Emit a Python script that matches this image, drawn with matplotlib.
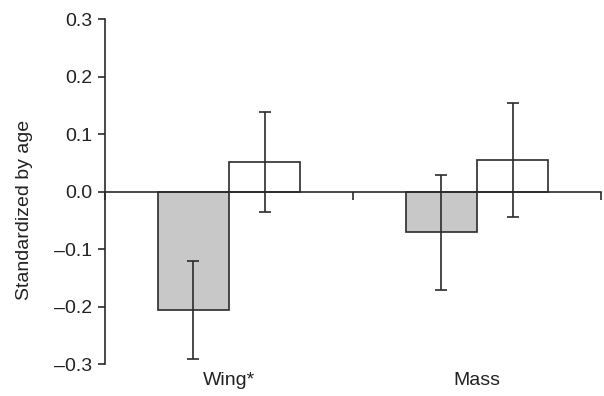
import matplotlib.pyplot as plt
from matplotlib.transforms import blended_transform_factory

plt.rcParams['font.family'] = ['Liberation Sans', 'DejaVu Sans']

traits = ["Wing*", "Mass"]
group_a = [-0.206, -0.071]
group_a_err = [0.086, 0.100]
group_b = [0.052, 0.055]
group_b_err = [0.087, 0.099]

ink = "#2b2b2b"
text_col = "#222222"
width = 0.288

fig = plt.figure(figsize=(6.04, 3.96), dpi=100)
ax = fig.add_axes([0.1738, 0.0808, 0.8212, 0.8712])

xs = list(range(len(traits)))
xa = [x - width / 2 for x in xs]
xb = [x + width / 2 for x in xs]

ax.bar(xa, group_a, width, color="#c8c8c8", edgecolor=ink, linewidth=1.2, zorder=2)
ax.bar(xb, group_b, width, color="white", edgecolor=ink, linewidth=1.2, zorder=2)
ax.errorbar(xa, group_a, yerr=group_a_err, fmt="none", ecolor=ink,
            elinewidth=1.2, capsize=4, capthick=1.2, zorder=3)
ax.errorbar(xb, group_b, yerr=group_b_err, fmt="none", ecolor=ink,
            elinewidth=1.2, capsize=4, capthick=1.2, zorder=3)

ax.set_xlim(-0.5, len(traits) - 0.5)
ax.set_ylim(-0.3, 0.3)
ax.set_yticks([-0.3, -0.2, -0.1, 0.0, 0.1, 0.2, 0.3])
ax.set_yticklabels(["\u20130.3", "\u20130.2", "\u20130.1", "0.0", "0.1", "0.2", "0.3"])

# category boundaries marked on the zero line
ax.set_xticks([-0.5, 0.5, 1.5])
ax.set_xticklabels([])
ax.spines["bottom"].set_position(("data", 0))
ax.spines["top"].set_visible(False)
ax.spines["right"].set_visible(False)
for side in ["left", "bottom"]:
    ax.spines[side].set_color(ink)
    ax.spines[side].set_linewidth(1.2)
ax.tick_params(axis="x", direction="out", length=5.5, width=1.2, color=ink)
ax.tick_params(axis="y", direction="out", length=5, width=1.2, color=ink,
               labelsize=14, pad=4, labelcolor=text_col)

trans = blended_transform_factory(ax.transData, ax.transAxes)
for x, name in zip(xs, traits):
    ax.text(x, -0.023, name, transform=trans, ha="center", va="top",
            fontsize=14, color=text_col)

ax.set_ylabel("Standardized by age", fontsize=14, color=text_col)
ax.yaxis.set_label_coords(-0.145, 0.446)

fig.savefig("out.png", dpi=100)
